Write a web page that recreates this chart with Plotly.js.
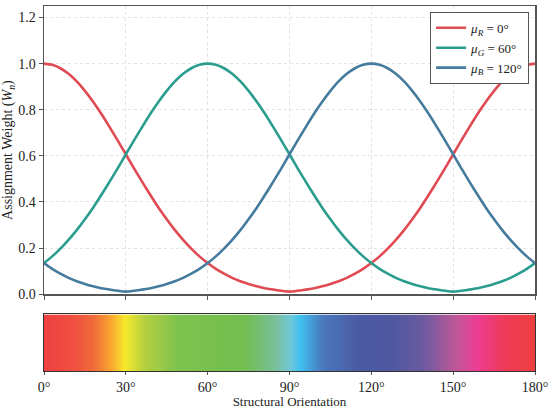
<!DOCTYPE html>
<html>
<head>
<meta charset="utf-8">
<script src="https://cdn.plot.ly/plotly-3.0.1.min.js"></script>
<style>html,body{margin:0;padding:0;background:#fff}#chart{width:550px;height:409px}</style>
</head>
<body>
<div id="chart"></div>
<script>
// Orientation samples (degrees)
const orientation = [0,3,6,9,12,15,18,21,24,27,30,33,36,39,42,45,48,51,54,57,60,63,66,69,72,75,78,81,84,87,90,93,96,99,102,105,108,111,114,117,120,123,126,129,132,135,138,141,144,147,150,153,156,159,162,165,168,171,174,177,180];

// Assignment weights
const weightR = [1.000,0.995,0.980,0.956,0.923,0.882,0.835,0.783,0.726,0.667,0.607,0.546,0.487,0.430,0.375,0.325,0.278,0.236,0.198,0.164,0.135,0.110,0.089,0.071,0.056,0.044,0.034,0.026,0.020,0.015,0.011,0.015,0.020,0.026,0.034,0.044,0.056,0.071,0.089,0.110,0.135,0.164,0.198,0.236,0.278,0.325,0.375,0.430,0.487,0.546,0.607,0.667,0.726,0.783,0.835,0.882,0.923,0.956,0.980,0.995,1.000];
const weightG = [0.135,0.164,0.198,0.236,0.278,0.325,0.375,0.430,0.487,0.546,0.607,0.667,0.726,0.783,0.835,0.882,0.923,0.956,0.980,0.995,1.000,0.995,0.980,0.956,0.923,0.882,0.835,0.783,0.726,0.667,0.607,0.546,0.487,0.430,0.375,0.325,0.278,0.236,0.198,0.164,0.135,0.110,0.089,0.071,0.056,0.044,0.034,0.026,0.020,0.015,0.011,0.015,0.020,0.026,0.034,0.044,0.056,0.071,0.089,0.110,0.135];
const weightB = [0.135,0.110,0.089,0.071,0.056,0.044,0.034,0.026,0.020,0.015,0.011,0.015,0.020,0.026,0.034,0.044,0.056,0.071,0.089,0.110,0.135,0.164,0.198,0.236,0.278,0.325,0.375,0.430,0.487,0.546,0.607,0.667,0.726,0.783,0.835,0.882,0.923,0.956,0.980,0.995,1.000,0.995,0.980,0.956,0.923,0.882,0.835,0.783,0.726,0.667,0.607,0.546,0.487,0.430,0.375,0.325,0.278,0.236,0.198,0.164,0.135];

const seriesNames = ['<i>μ<sub>R</sub></i> = 0°', '<i>μ<sub>G</sub></i> = 60°', '<i>μ<sub>B</sub></i> = 120°'];
const tickVals = [0,30,60,90,120,150,180];
const tickText = ['0°','30°','60°','90°','120°','150°','180°'];
const yTickVals = [0.0,0.2,0.4,0.6,0.8,1.0,1.2];
const yTickText = ['0.0','0.2','0.4','0.6','0.8','1.0','1.2'];

// Colour strip (hue vs orientation)
const stripStops = [0,0.06,0.10,0.136,0.163,0.204,0.27,0.405,0.475,0.50,0.52,0.567,0.64,0.70,0.77,0.84,0.88,0.94,1.0];
const stripColors = ['#EE4040','#EF5040','#F06A3A','#F9A530','#F8EA2A','#B5D040','#7DC24E','#72BE4E','#7ABFA0','#70C8D8','#3EC0F0','#4A78BC','#4B5AA4','#4C58A0','#6A5AA0','#C05898','#EC3C94','#EE3A55','#EE4040'];

const colors = ['#DF4A53','#2A9D8F','#457B9D'];
const weights = [weightR, weightG, weightB];

const traces = weights.map((w,i)=>({
  x: orientation, y: w, type:'scatter', mode:'lines', name: seriesNames[i],
  line:{color:colors[i], width:2.6, shape:'spline', smoothing:0.4}, xaxis:'x', yaxis:'y'
}));

traces.push({
  type:'heatmap', x: orientation, y:[0,1], z:[orientation, orientation],
  zmin:0, zmax:180, zsmooth:'best', showscale:false, hoverinfo:'skip',
  colorscale: stripStops.map((s,i)=>[s, stripColors[i]]),
  xaxis:'x2', yaxis:'y2', showlegend:false
});

const serif = 'Liberation Serif';
const axisFont = {family:serif, size:14, color:'#222'};
const titleFont = {family:serif, size:13, color:'#222'};
const lineCol = '#555';

const layout = {
  width:550, height:409,
  margin:{l:44, r:15, t:6, b:38},
  paper_bgcolor:'#fff', plot_bgcolor:'#fff',
  font: axisFont,
  showlegend:true,
  legend:{x:0.988, y:0.984, xanchor:'right', yanchor:'top', bgcolor:'#fff',
    bordercolor:'#555', borderwidth:1, font:{family:serif, size:13, color:'#222'},
    tracegroupgap:0, itemwidth:30},
  xaxis:{domain:[0,1], anchor:'y', range:[0,180], tickvals:tickVals, showticklabels:false,
    ticks:'outside', ticklen:4, tickcolor:lineCol, showline:true, linecolor:lineCol, linewidth:1.5, mirror:true,
    showgrid:true, gridcolor:'#e2e2e2', griddash:'dot', gridwidth:1, zeroline:false},
  yaxis:{domain:[0.2104,1], anchor:'x', range:[0,1.25], tickvals:yTickVals, ticktext:yTickText,
    ticks:'outside', ticklen:4, tickcolor:lineCol, showline:true, linecolor:lineCol, linewidth:1.5, mirror:true,
    showgrid:true, gridcolor:'#e2e2e2', griddash:'dot', gridwidth:1, zeroline:false, tickfont:axisFont,
    title:{text:'Assignment Weight (<i>W<sub>n</sub></i>)', font:axisFont, standoff:6}},
  xaxis2:{domain:[0,1], anchor:'y2', range:[0,180], tickvals:tickVals, ticktext:tickText,
    ticks:'outside', ticklen:3, tickcolor:lineCol, showline:true, linecolor:'#333', linewidth:1.2, mirror:true,
    showgrid:false, zeroline:false, tickfont:axisFont,
    title:{text:'Structural Orientation', font:titleFont, standoff:2}},
  yaxis2:{domain:[0,0.155], anchor:'x2', range:[0,1], showticklabels:false, ticks:'',
    showline:true, linecolor:'#333', linewidth:1.2, mirror:true, showgrid:false, zeroline:false}
};

Plotly.newPlot('chart', traces, layout, {displayModeBar:false, staticPlot:true});
</script>
</body>
</html>
